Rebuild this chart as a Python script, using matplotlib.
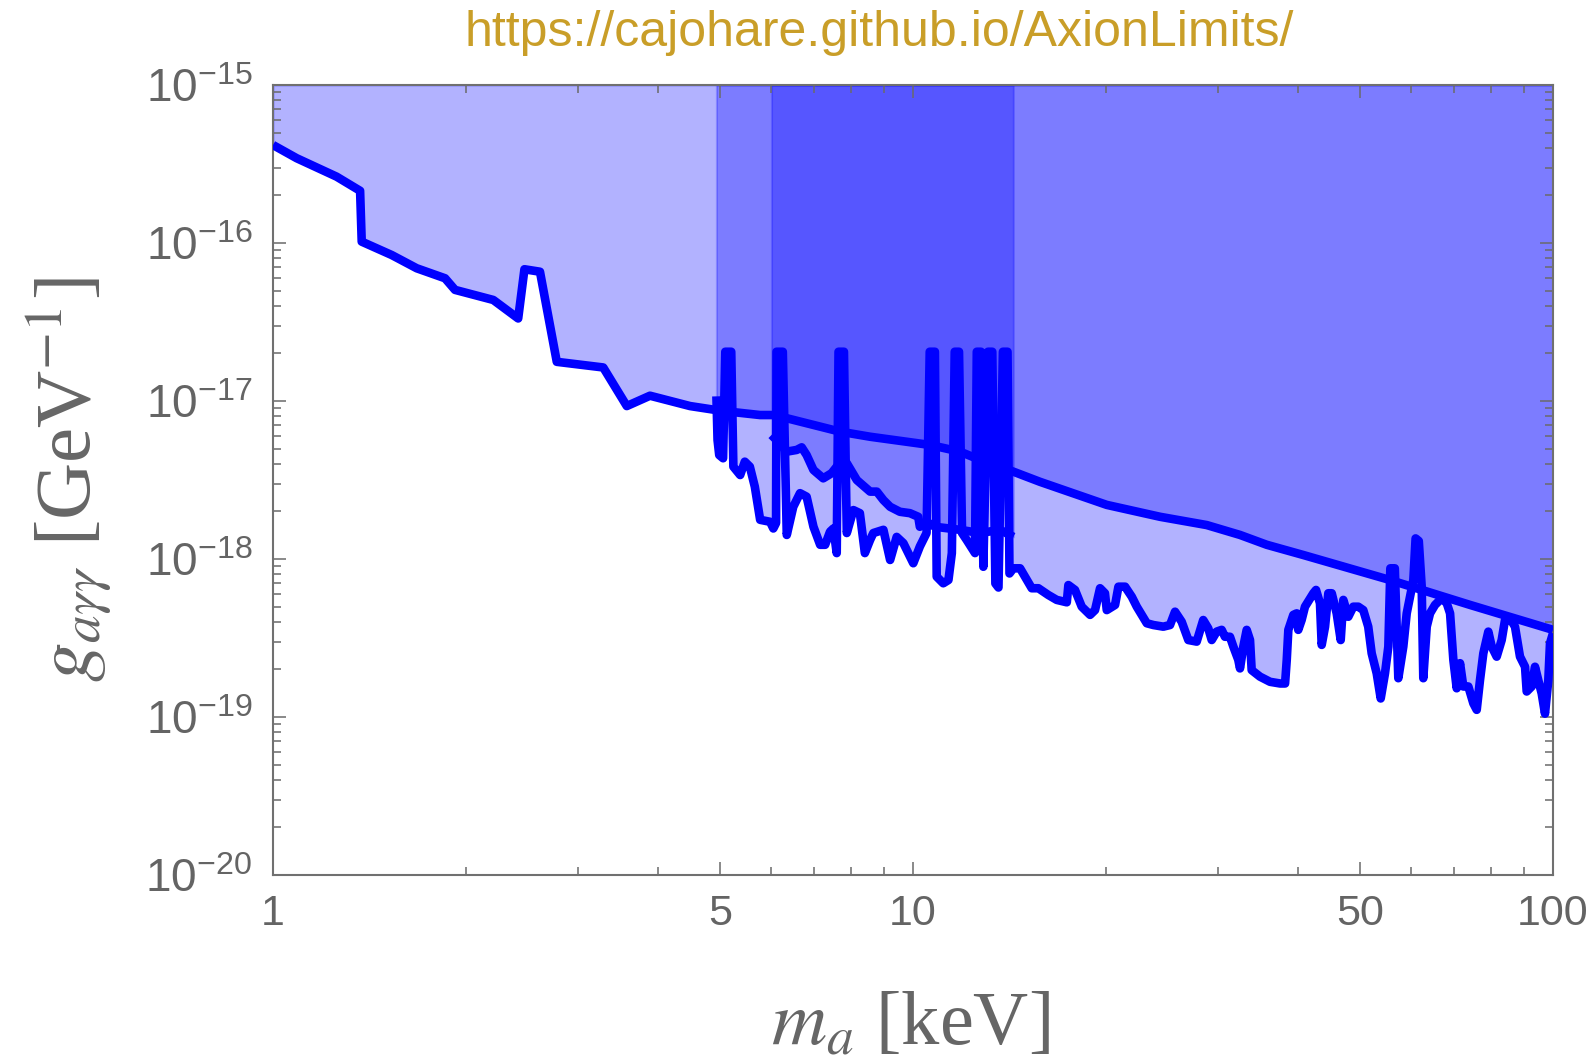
import matplotlib
matplotlib.use("Agg")
import matplotlib.pyplot as plt
from matplotlib.ticker import FixedLocator, FixedFormatter, NullFormatter

plt.rcParams['font.family'] = ['Liberation Sans', 'DejaVu Sans']
plt.rcParams['mathtext.fontset'] = 'stix'

# ---------------- data (axion mass in keV, coupling in GeV^-1) ----------------
top_mass = [1.0, 1.089, 1.257, 1.368, 1.376, 1.533, 1.677, 1.857, 1.925, 2.209,
            2.416, 2.471, 2.613, 2.776, 3.281, 3.571, 3.882, 4.483, 4.993, 5.768,
            6.05, 6.35, 7.69, 8.57, 10.63, 11.84, 12.73, 14.35, 15.79, 20.08,
            24.32, 28.77, 32.43, 35.71, 40.72, 55.64, 74.2, 100.0]
top_g = [4.17e-16, 3.44e-16, 2.63e-16, 2.14e-16, 1.02e-16, 8.39e-17, 6.92e-17, 5.98e-17, 5.05e-17, 4.36e-17,
         3.33e-17, 6.82e-17, 6.58e-17, 1.77e-17, 1.63e-17, 9.29e-18, 1.08e-17, 9.29e-18, 8.69e-18, 8.15e-18,
         8.15e-18, 7.78e-18, 6.40e-18, 5.94e-18, 5.27e-18, 4.78e-18, 4.24e-18, 3.57e-18, 3.08e-18, 2.20e-18,
         1.85e-18, 1.64e-18, 1.42e-18, 1.23e-18, 1.06e-18, 7.36e-19, 5.12e-19, 3.56e-19]

b_mass = [4.93, 4.95, 4.98, 5.05, 5.09, 5.20, 5.24, 5.37, 5.46, 5.56,
          5.66, 5.77, 5.98, 6.05, 6.11, 6.12, 6.26, 6.35, 6.50, 6.66,
          6.82, 6.99, 7.16, 7.29, 7.42, 7.51, 7.60, 7.65, 7.80, 7.88,
          8.07, 8.26, 8.41, 8.57, 8.67, 8.99, 9.21, 9.43, 9.66, 10.01,
          10.25, 10.50, 10.62, 10.82, 10.89, 11.15, 11.36, 11.50, 11.62, 11.80,
          11.93, 12.13, 12.50, 12.58, 12.77, 12.88, 13.10, 13.30, 13.45, 13.60,
          13.82, 14.05, 14.15, 14.35, 14.70, 14.96, 15.33, 15.70, 16.27, 16.77,
          17.39, 17.49, 17.91, 18.35, 18.91, 19.25, 19.60, 19.95, 20.08, 20.69,
          20.94, 21.45, 21.97, 22.37, 23.19, 23.75, 24.61, 25.21, 25.67, 26.29,
          26.93, 27.75, 28.41, 28.93, 29.29, 29.82, 30.36, 30.72, 31.28, 31.66,
          32.23, 32.43, 32.82, 33.22, 33.62, 33.82, 34.85, 36.13, 37.45, 38.14,
          38.37, 38.59, 39.29, 39.77, 39.99, 40.48, 40.97, 42.22, 42.63, 43.24,
          43.51, 44.04, 44.56, 45.11, 45.92, 46.59, 47.03, 47.88, 48.75, 49.63,
          50.53, 51.44, 52.08, 53.03, 53.80, 54.64, 55.30, 55.70, 56.60, 57.32,
          58.36, 59.08, 59.79, 60.50, 61.00, 61.70, 62.35, 62.71, 63.49, 64.25,
          65.41, 67.01, 68.23, 69.05, 69.87, 70.72, 71.57, 72.42, 73.74, 75.08,
          76.00, 76.90, 77.83, 79.24, 80.21, 81.66, 83.14, 84.14, 85.66, 87.22,
          88.80, 90.43, 90.97, 92.62, 93.73, 94.84, 96.01, 97.16, 98.33, 98.92,
          100.0]
b_g = [1.07e-17, 5.66e-18, 4.55e-18, 4.34e-18, 2.05e-17, 2.05e-17, 3.84e-18, 3.40e-18, 4.13e-18, 3.84e-18,
       2.87e-18, 1.77e-18, 1.72e-18, 1.56e-18, 1.69e-18, 2.05e-17, 2.05e-17, 1.42e-18, 2.14e-18, 2.61e-18,
       2.48e-18, 1.60e-18, 1.23e-18, 1.23e-18, 1.49e-18, 1.56e-18, 1.09e-18, 2.05e-17, 2.05e-17, 1.46e-18,
       2.04e-18, 1.95e-18, 1.09e-18, 1.32e-18, 1.46e-18, 1.53e-18, 9.86e-19, 1.38e-18, 1.26e-18, 9.40e-19,
       1.20e-18, 1.46e-18, 2.05e-17, 2.05e-17, 7.73e-19, 7.02e-19, 7.36e-19, 1.09e-18, 2.05e-17, 2.05e-17,
       1.46e-18, 1.32e-18, 1.09e-18, 2.05e-17, 2.05e-17, 8.93e-19, 2.05e-17, 2.05e-17, 7.00e-19, 6.60e-19,
       2.05e-17, 2.05e-17, 8.10e-19, 8.73e-19, 8.73e-19, 7.73e-19, 6.53e-19, 6.53e-19, 5.92e-19, 5.51e-19,
       5.32e-19, 6.84e-19, 6.37e-19, 4.99e-19, 4.43e-19, 4.75e-19, 6.53e-19, 6.07e-19, 4.75e-19, 5.12e-19,
       6.68e-19, 6.68e-19, 5.77e-19, 4.99e-19, 3.92e-19, 3.82e-19, 3.73e-19, 3.82e-19, 4.64e-19, 4.01e-19,
       3.07e-19, 3.00e-19, 4.11e-19, 3.64e-19, 3.07e-19, 3.47e-19, 3.56e-19, 3.22e-19, 3.22e-19, 2.79e-19,
       2.30e-19, 2.03e-19, 2.79e-19, 3.56e-19, 3.07e-19, 1.98e-19, 1.80e-19, 1.67e-19, 1.63e-19, 1.63e-19,
       2.30e-19, 3.56e-19, 4.43e-19, 4.53e-19, 3.56e-19, 4.11e-19, 4.99e-19, 6.07e-19, 6.37e-19, 5.25e-19,
       2.86e-19, 3.73e-19, 6.07e-19, 6.07e-19, 4.53e-19, 3.07e-19, 5.51e-19, 4.31e-19, 4.99e-19, 4.99e-19,
       4.75e-19, 3.73e-19, 2.53e-19, 1.89e-19, 1.31e-19, 1.89e-19, 2.79e-19, 8.73e-19, 8.73e-19, 1.76e-19,
       2.79e-19, 4.53e-19, 5.77e-19, 7.36e-19, 1.35e-18, 1.30e-18, 6.68e-19, 1.76e-19, 3.73e-19, 4.53e-19,
       5.12e-19, 5.64e-19, 5.25e-19, 4.53e-19, 2.30e-19, 1.52e-19, 2.19e-19, 1.56e-19, 1.56e-19, 1.22e-19,
       1.11e-19, 1.71e-19, 2.53e-19, 3.47e-19, 2.79e-19, 2.41e-19, 3.07e-19, 4.11e-19, 4.21e-19, 3.73e-19,
       2.41e-19, 2.08e-19, 1.45e-19, 1.56e-19, 2.08e-19, 1.71e-19, 1.41e-19, 1.05e-19, 1.71e-19, 2.92e-19,
       3.39e-19]

c_mass = [6.01, 6.12, 6.35, 6.58, 6.70, 6.82, 6.99, 7.24, 7.46, 7.64,
          7.88, 8.17, 8.57, 8.78, 8.99, 9.21, 9.54, 9.89, 10.19, 10.25,
          10.50, 10.82, 11.84, 12.73, 13.68, 14.35]
c_g = [6.09e-18, 5.66e-18, 4.78e-18, 4.90e-18, 5.09e-18, 4.55e-18, 3.66e-18, 3.24e-18, 3.49e-18, 3.94e-18,
       4.04e-18, 3.16e-18, 2.67e-18, 2.67e-18, 2.36e-18, 2.14e-18, 1.99e-18, 1.95e-18, 1.85e-18, 1.60e-18,
       1.72e-18, 1.60e-18, 1.53e-18, 1.46e-18, 1.53e-18, 1.38e-18]

x_major = [1, 5, 10, 50, 100]
x_major_labels = ['1', '5', '10', '50', '100']
x_minor = [2, 3, 4, 6, 7, 8, 9, 20, 30, 40, 60, 70, 80, 90]
y_major = [1e-20, 1e-19, 1e-18, 1e-17, 1e-16, 1e-15]
y_major_labels = [r'$\mathdefault{10^{-20}}$', r'$\mathdefault{10^{-19}}$', r'$\mathdefault{10^{-18}}$',
                  r'$\mathdefault{10^{-17}}$', r'$\mathdefault{10^{-16}}$', r'$\mathdefault{10^{-15}}$']
y_minor_mult = [2, 3, 4, 5, 6, 7, 8, 9]
x_lim = (1, 100)
y_lim = (1e-20, 1e-15)

title_text = 'https://cajohare.github.io/AxionLimits/'
xlabel_text = r'$m_a$ [keV]'
ylabel_text = r'$g_{a\gamma\gamma}$ [GeV$^{-1}$]'

# ---------------- figure ----------------
W, H = 1594, 1062
fig = plt.figure(figsize=(W / 100, H / 100), dpi=100)
ax = fig.add_axes([273 / W, 1 - 875 / H, 1280 / W, 790 / H])
ax.set_xscale('log')
ax.set_yscale('log')
ax.set_xlim(*x_lim)
ax.set_ylim(*y_lim)

curves = [(top_mass, top_g), (b_mass, b_g), (c_mass, c_g)]
for m, g in curves:
    ax.fill_between(m, g, y_lim[1], facecolor=(0, 0, 1, 0.3),
                    edgecolor=(0, 0, 1, 0.22), linewidth=1.5, zorder=1)
for m, g in curves:
    ax.plot(m, g, color='#0000ff', lw=6.2, solid_joinstyle='round',
            solid_capstyle='butt', zorder=3)

ax.xaxis.set_major_locator(FixedLocator(x_major))
ax.xaxis.set_major_formatter(FixedFormatter(x_major_labels))
ax.xaxis.set_minor_locator(FixedLocator(x_minor))
ax.xaxis.set_minor_formatter(NullFormatter())
ax.yaxis.set_major_locator(FixedLocator(y_major))
ax.yaxis.set_major_formatter(FixedFormatter(y_major_labels))
ax.yaxis.set_minor_locator(FixedLocator([k * d for d in y_major[:-1] for k in y_minor_mult]))
ax.yaxis.set_minor_formatter(NullFormatter())

ax.tick_params(which='both', direction='in', top=True, right=True,
               color='#6a6a6a', width=1.1, labelcolor='#646464')
ax.tick_params(which='major', length=9.5)
ax.tick_params(axis='y', which='major', pad=15, labelsize=33)
ax.tick_params(axis='x', which='major', pad=14, labelsize=31)
ax.tick_params(which='minor', length=6)
for sp in ax.spines.values():
    sp.set_color('#707070')
    sp.set_linewidth(1.5)
    sp.set_zorder(2.5)

fig.text(879 / W, 1 - 33 / H, title_text, ha='center', va='center',
         fontsize=36, color='#C99E28')
fig.text(910 / W, 1 - 1026 / H, xlabel_text, ha='center', va='center',
         fontsize=55, color='#666666', family='Liberation Serif')
fig.text(69 / W, 1 - 480 / H, ylabel_text, ha='center', va='center',
         rotation=90, fontsize=57, color='#666666', family='Liberation Serif')

fig.savefig('out.png', dpi=100)
